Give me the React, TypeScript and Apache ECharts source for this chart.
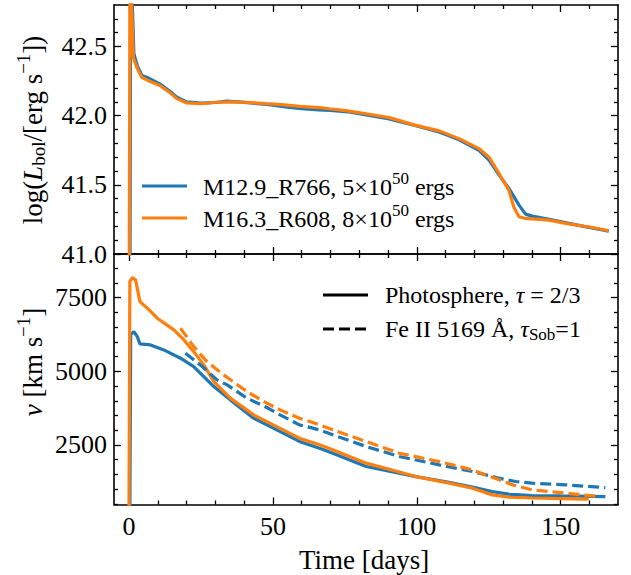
import React, { useEffect, useRef } from "react";
import * as echarts from "echarts";

const FONT = '"Liberation Serif", "DejaVu Serif", serif';
const BLUE = "#1f77b4";
const ORANGE = "#ff7f0e";

// ---------- data ----------
const timeLbolBlue = [0.3, 0.6, 1.1, 1.7, 2.9, 4.5, 7, 10.7, 14, 16.5, 20, 25, 30, 34, 38, 43, 48, 55, 60, 66, 70, 76, 82, 90, 100, 108, 114.7, 121.6, 125.1, 128.6, 132, 135.5, 137.8, 140.1, 146, 152, 158, 166.7];
const lbolBlue = [40.0, 43.5, 42.85, 42.45, 42.36, 42.29, 42.27, 42.23, 42.18, 42.135, 42.1, 42.09, 42.095, 42.105, 42.1, 42.09, 42.082, 42.062, 42.05, 42.042, 42.038, 42.028, 42.008, 41.978, 41.925, 41.88, 41.826, 41.75, 41.678, 41.57, 41.474, 41.353, 41.288, 41.274, 41.25, 41.225, 41.2, 41.165];

const timeLbolOrange = [0, 0.4, 0.9, 1.5, 2.7, 4.4, 7, 10.7, 14, 16.5, 20, 25, 30.4, 36.1, 42, 47.7, 53, 59.2, 66.2, 69.6, 76, 82.4, 90.4, 99.7, 107.8, 114.7, 121.6, 125.1, 128.6, 132, 133.7, 135.5, 137.8, 145.9, 152.2, 160, 166.7];
const lbolOrange = [40.0, 43.6, 42.8, 42.42, 42.35, 42.278, 42.25, 42.218, 42.17, 42.125, 42.092, 42.086, 42.097, 42.1, 42.095, 42.087, 42.08, 42.067, 42.058, 42.05, 42.035, 42.014, 41.986, 41.93, 41.89, 41.834, 41.762, 41.7, 41.58, 41.46, 41.34, 41.269, 41.257, 41.245, 41.22, 41.195, 41.168];

const timePhotOrange = [0, 0.3, 1.15, 2.3, 3.8, 6.4, 9.8, 12, 15.6, 19.1, 22.5, 26, 29.5, 35.2, 43.3, 47.9, 59.2, 66.2, 70.8, 82.4, 99.7, 111.2, 119.3, 126.2, 132, 140, 150, 159.7];
const vPhotOrange = [0, 8043, 8178, 8100, 7364, 7140, 6801, 6650, 6404, 6065, 5668, 5217, 4651, 4088, 3521, 3290, 2730, 2504, 2334, 1883, 1428, 1204, 1034, 807, 729, 700, 680, 661];

const timePhotBlue = [0.3, 0.6, 1.7, 2.9, 3.8, 7.5, 12.1, 17.9, 22.5, 26, 29.5, 35.2, 43.3, 47.9, 59.2, 66.2, 70.8, 82.4, 99.7, 111.2, 119.3, 126.2, 132, 140, 150, 165.5];
const vPhotBlue = [0, 6250, 6347, 6177, 5930, 5896, 5726, 5444, 5160, 4820, 4481, 4030, 3409, 3183, 2620, 2390, 2221, 1768, 1428, 1230, 1068, 917, 831, 784, 770, 750];

const timeFeOrange = [17.9, 22.5, 27.1, 32.9, 41, 47.7, 52.5, 59.2, 66.2, 70.8, 82.4, 93.9, 107.8, 119.3, 128.6, 133.2, 140, 151.7, 163.2];
const vFeOrange = [6462, 5838, 5329, 4878, 4312, 3930, 3691, 3409, 3183, 3013, 2617, 2221, 1937, 1655, 1316, 1147, 977, 865, 750];

const timeFeBlue = [19.6, 24.8, 30.6, 34.1, 41, 47.7, 52.5, 59.2, 66.2, 70.8, 82.4, 93.9, 107.8, 119.3, 128.6, 134.3, 140, 151.7, 163.2, 165.5];
const vFeBlue = [5614, 5217, 4708, 4538, 4088, 3780, 3521, 3183, 3013, 2844, 2448, 2108, 1826, 1598, 1373, 1260, 1203, 1147, 1068, 1050];

// tick values
const xMajorTicks = [0, 50, 100, 150];
const xMinorTicks = [10, 20, 30, 40, 60, 70, 80, 90, 110, 120, 130, 140, 160];
const lbolMajorTicks = [41.0, 41.5, 42.0, 42.5];
const lbolMinorTicks = [41.1, 41.2, 41.3, 41.4, 41.6, 41.7, 41.8, 41.9, 42.1, 42.2, 42.3, 42.4, 42.6, 42.7];
const vMajorTicks = [2500, 5000, 7500];
const vMinorTicks = [500, 1000, 1500, 2000, 3000, 3500, 4000, 4500, 5500, 6000, 6500, 7000, 8000, 8500];

const X_MIN = -5.2;
const X_MAX = 169.9;
const LBOL_MIN = 41.0;
const LBOL_MAX = 42.8;
const V_MIN = 480;
const V_MAX = 8980;

const pairs = (t: number[], v: number[]) => t.map((x, i) => [x, v[i]]);

function xAxis(grid: number, position: string, ticks: number[], len: number, opts: any = {}) {
  return {
    type: "value",
    gridIndex: grid,
    position,
    min: X_MIN,
    max: X_MAX,
    axisLine: { show: !!opts.line, onZero: false, lineStyle: { color: "#000", width: 1.6 } },
    axisTick: { show: true, inside: true, length: len, customValues: ticks, lineStyle: { color: "#000", width: 1.3 } },
    axisLabel: opts.labels
      ? { show: true, customValues: ticks, margin: 9, fontSize: 26, fontWeight: "normal", fontFamily: FONT, color: "#000" }
      : { show: false },
    splitLine: { show: false },
  };
}

function yAxis(grid: number, position: string, min: number, max: number, ticks: number[], len: number, opts: any = {}) {
  return {
    type: "value",
    gridIndex: grid,
    position,
    min,
    max,
    axisLine: { show: !!opts.line, onZero: false, lineStyle: { color: "#000", width: 1.6 } },
    axisTick: { show: true, inside: true, length: len, customValues: ticks, lineStyle: { color: "#000", width: 1.3 } },
    axisLabel: opts.labels
      ? { show: true, customValues: ticks, margin: 7, fontSize: 26, fontWeight: "normal", fontFamily: FONT, color: "#000", formatter: opts.formatter }
      : { show: false },
    splitLine: { show: false },
  };
}

function lineSeries(name: string, x: number, y: number, data: number[][], color: string, dashed = false) {
  return {
    name,
    type: "line",
    xAxisIndex: x,
    yAxisIndex: y,
    data,
    symbol: "none",
    smooth: false,
    clip: true,
    lineStyle: { color, width: 3.2, type: dashed ? [11, 5] : "solid" },
    emphasis: { disabled: true },
  };
}

const baseText = { fontFamily: FONT, fontWeight: "normal", fill: "#000" };

function richStyles(size: number) {
  const sub = Math.round(size * 0.7);
  return {
    it: { fontStyle: "italic", fontWeight: "normal", fontSize: size, fontFamily: FONT, fill: "#000" },
    sub: { fontSize: sub, fontWeight: "normal", fontFamily: FONT, fill: "#000", padding: [Math.round(size * 0.4), 0, 0, 0] },
    sup: { fontSize: sub, fontWeight: "normal", fontFamily: FONT, fill: "#000", padding: [0, 0, Math.round(size * 0.75), 0] },
  };
}

function textEl(text: string, x: number, y: number, size: number, align: string, rotation = 0) {
  return {
    type: "text",
    x,
    y,
    rotation,
    silent: true,
    style: {
      ...baseText,
      text,
      fontSize: size,
      align,
      textAlign: align,
      verticalAlign: "middle",
      textVerticalAlign: "middle",
      rich: richStyles(size),
    },
  };
}

function legendLine(x1: number, x2: number, y: number, color: string, dashed = false) {
  return {
    type: "line",
    silent: true,
    shape: { x1, y1: y, x2, y2: y },
    style: { stroke: color, lineWidth: 3.2, lineDash: dashed ? [11, 5] : null },
  };
}

export default function App() {
  const ref = useRef<HTMLDivElement>(null);
  useEffect(() => {
    if (!ref.current) return;
    const chart = echarts.init(ref.current, null, { renderer: "svg" });
    const option: any = {
      animation: false,
      backgroundColor: "#fff",
      grid: [
        { left: 114, top: 5, width: 504, height: 249 },
        { left: 114, top: 254, width: 504, height: 250.5 },
      ],
      xAxis: [
        xAxis(0, "bottom", xMajorTicks, 7, { line: true }),
        xAxis(0, "bottom", xMinorTicks, 4),
        xAxis(0, "top", xMajorTicks, 7, { line: true }),
        xAxis(0, "top", xMinorTicks, 4),
        xAxis(1, "bottom", xMajorTicks, 7, { line: true, labels: true }),
        xAxis(1, "bottom", xMinorTicks, 4),
        xAxis(1, "top", xMajorTicks, 7, { line: true }),
        xAxis(1, "top", xMinorTicks, 4),
      ],
      yAxis: [
        yAxis(0, "left", LBOL_MIN, LBOL_MAX, lbolMajorTicks, 7, { line: true, labels: true, formatter: (v: number) => v.toFixed(1) }),
        yAxis(0, "left", LBOL_MIN, LBOL_MAX, lbolMinorTicks, 4),
        yAxis(0, "right", LBOL_MIN, LBOL_MAX, lbolMajorTicks, 7, { line: true }),
        yAxis(0, "right", LBOL_MIN, LBOL_MAX, lbolMinorTicks, 4),
        yAxis(1, "left", V_MIN, V_MAX, vMajorTicks, 7, { line: true, labels: true, formatter: (v: number) => String(v) }),
        yAxis(1, "left", V_MIN, V_MAX, vMinorTicks, 4),
        yAxis(1, "right", V_MIN, V_MAX, vMajorTicks, 7, { line: true }),
        yAxis(1, "right", V_MIN, V_MAX, vMinorTicks, 4),
      ],
      series: [
        lineSeries("M12.9_R766", 0, 0, pairs(timeLbolBlue, lbolBlue), BLUE),
        lineSeries("M16.3_R608", 0, 0, pairs(timeLbolOrange, lbolOrange), ORANGE),
        lineSeries("phot blue", 4, 4, pairs(timePhotBlue, vPhotBlue), BLUE),
        lineSeries("phot orange", 4, 4, pairs(timePhotOrange, vPhotOrange), ORANGE),
        lineSeries("FeII blue", 4, 4, pairs(timeFeBlue, vFeBlue), BLUE, true),
        lineSeries("FeII orange", 4, 4, pairs(timeFeOrange, vFeOrange), ORANGE, true),
      ],
      graphic: [
        // top legend
        legendLine(142, 187, 186, BLUE),
        legendLine(142, 187, 218, ORANGE),
        textEl("M12.9_R766, 5×10{sup|50} ergs", 203, 187, 24, "left"),
        textEl("M16.3_R608, 8×10{sup|50} ergs", 203, 219, 24, "left"),
        // bottom legend
        legendLine(323, 368, 295, "#000"),
        legendLine(323, 368, 329, "#000", true),
        textEl("Photosphere, {it|τ} = 2/3", 385, 295, 24, "left"),
        textEl("Fe II 5169 Å, {it|τ}{sub|Sob}=1", 385, 329, 24, "left"),
        // axis titles
        textEl("log({it|L}{sub|bol}/[erg s{sup|−1}])", 33, 130, 27, "center", Math.PI / 2),
        textEl("{it|v} [km s{sup|−1}]", 33, 362, 27, "center", Math.PI / 2),
        textEl("Time [days]", 364, 560, 27, "center"),
      ],
    };
    chart.setOption(option);
    return () => chart.dispose();
  }, []);
  return <div ref={ref} style={{ position: "absolute", left: 0, top: 0, width: 631, height: 575 }} />;
}
